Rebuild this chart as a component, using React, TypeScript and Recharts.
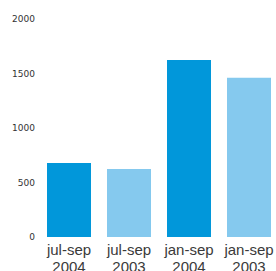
import { BarChart, Bar, XAxis, YAxis, Cell } from 'recharts';

const PERIODS = ['jul-sep', 'jul-sep', 'jan-sep', 'jan-sep'];
const YEARS = ['2004', '2003', '2004', '2003'];
const VALUES = [680, 625, 1625, 1460];
const COLORS = ['#0197da', '#85c9ee', '#0197da', '#85c9ee'];
const Y_TICKS = [0, 500, 1000, 1500, 2000];

const data = PERIODS.map((p, i) => ({ name: `${p} ${YEARS[i]}`, value: VALUES[i] }));

const CategoryTick = (props: any) => {
    const { x, y, index } = props;
    return (
        <text x={x} y={y} textAnchor="middle" fill="#3a3a3a" fontSize={15} fontFamily="'Liberation Sans', Arial, sans-serif">
            <tspan x={x} dy={18}>{PERIODS[index]}</tspan>
            <tspan x={x} dy={17}>{YEARS[index]}</tspan>
        </text>
    );
};

export default function App() {
    // fixed frame so the overflowing right band does not make the page scroll
    return (
        <div style={{ position: 'fixed', left: 0, top: 0, width: 276, height: 271, overflow: 'hidden', background: '#fff' }}>
            <div style={{ position: 'absolute', left: 8, top: 8 }}>
                <BarChart
                    width={280}
                    height={263}
                    data={data}
                    margin={{ top: 11, right: 9, left: 0, bottom: 0 }}
                    barCategoryGap={8}
                >
                    <XAxis
                        dataKey="name"
                        axisLine={false}
                        tickLine={false}
                        tickSize={0}
                        tickMargin={0}
                        height={34}
                        interval={0}
                        tick={<CategoryTick />}
                    />
                    <YAxis
                        domain={[0, 2000]}
                        ticks={Y_TICKS}
                        axisLine={false}
                        tickLine={false}
                        tickSize={0}
                        tickMargin={4}
                        width={31}
                        tick={{ fill: '#333', fontSize: 9, fontFamily: "'DejaVu Sans', sans-serif" }}
                    />
                    <Bar dataKey="value" isAnimationActive={false}>
                        {data.map((d, i) => (
                            <Cell key={d.name} fill={COLORS[i]} />
                        ))}
                    </Bar>
                </BarChart>
            </div>
        </div>
    );
}
